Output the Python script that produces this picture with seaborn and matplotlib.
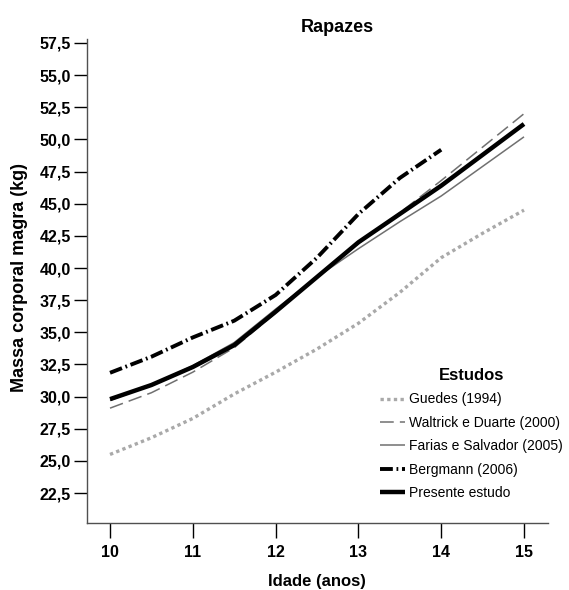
import matplotlib
matplotlib.use("Agg")
import matplotlib.pyplot as plt
import pandas as pd
import seaborn as sns

# Lean body mass (kg) by age for boys, from several studies
ages = [10, 10.5, 11, 11.5, 12, 12.5, 13, 13.5, 14, 14.5, 15]
guedes = [25.5, 26.8, 28.3, 30.2, 31.9, 33.7, 35.7, 38.1, 40.8, 42.7, 44.5]
waltrick = [29.1, 30.3, 31.9, 33.8, 36.5, 39.3, 41.9, 44.3, 46.8, 49.4, 52.0]
farias = [29.7, 30.9, 32.4, 34.2, 36.8, 39.3, 41.5, 43.6, 45.6, 47.9, 50.2]
bergmann_ages = [10, 10.5, 11, 11.5, 12, 12.5, 13, 13.5, 14]
bergmann = [31.85, 33.1, 34.6, 35.9, 37.9, 40.8, 44.2, 47.0, 49.2]
presente = [29.8, 30.9, 32.3, 34.0, 36.6, 39.3, 42.0, 44.2, 46.4, 48.8, 51.2]

study_names = ["Guedes (1994)", "Waltrick e Duarte (2000)",
               "Farias e Salvador (2005)", "Bergmann (2006)", "Presente estudo"]

x_ticks = [10, 11, 12, 13, 14, 15]
y_ticks = [22.5, 25.0, 27.5, 30.0, 32.5, 35.0, 37.5, 40.0, 42.5, 45.0,
           47.5, 50.0, 52.5, 55.0, 57.5]

sns.set_theme(style="ticks")
plt.rcParams["font.family"] = ["Liberation Sans", "DejaVu Sans"]
plt.rcParams["text.color"] = "black"
plt.rcParams["axes.labelcolor"] = "black"
plt.rcParams["xtick.color"] = "black"
plt.rcParams["ytick.color"] = "black"

fig = plt.figure(figsize=(5.69, 5.90), dpi=100)
ax = fig.add_axes([0.1529, 0.1136, 0.8102, 0.8203])

series = [
    (ages, guedes, dict(color="#a9a9a9", linewidth=2.4, linestyle=(0, (1, 1)))),
    (ages, waltrick, dict(color="#707070", linewidth=1.1, linestyle=(0, (9, 4)))),
    (ages, farias, dict(color="#707070", linewidth=1.1, linestyle="-")),
    (bergmann_ages, bergmann, dict(color="black", linewidth=2.8,
                                   linestyle=(0, (3.3, 0.95, 0.45, 0.95)))),
    (ages, presente, dict(color="black", linewidth=3.2, linestyle="-")),
]

for name, (xs, ys, style) in zip(study_names, series):
    df = pd.DataFrame({"idade": xs, "massa": ys})
    sns.lineplot(data=df, x="idade", y="massa", ax=ax, label=name,
                 solid_capstyle="butt", **style)

ax.set_xlim(9.722, 15.29)
ax.set_ylim(20.17, 57.81)

ax.set_xticks(x_ticks)
ax.set_xticklabels([str(v) for v in x_ticks], fontweight="bold", fontsize=11.5)
ax.set_yticks(y_ticks)
ax.set_yticklabels([f"{v:.1f}".replace(".", ",") for v in y_ticks],
                   fontweight="bold", fontsize=11.5)

ax.tick_params(axis="y", length=9.5, width=1, pad=2, color="black",
               labelcolor="black")
ax.tick_params(axis="x", length=10.5, width=1, pad=5, color="black",
               labelcolor="black")

sns.despine(ax=ax)
for side in ("left", "bottom"):
    ax.spines[side].set_color("#505050")
    ax.spines[side].set_linewidth(1)

ax.set_xlabel("Idade (anos)", fontsize=12, fontweight="bold", color="black")
ax.set_ylabel("Massa corporal magra (kg)", fontsize=13, fontweight="bold",
              color="black")
ax.xaxis.set_label_coords(0.499, -0.105)
ax.yaxis.set_label_coords(-0.128, 0.508)

fig.text(337 / 569, 1 - 28 / 590, "Rapazes", ha="center", va="center",
         fontsize=13, fontweight="bold", color="black")

handles, labels = ax.get_legend_handles_labels()
leg = ax.legend(handles, labels, title="Estudos", loc="upper left",
                bbox_to_anchor=(380 / 569, 1 - 368 / 590),
                bbox_transform=fig.transFigure, frameon=False, fontsize=10,
                title_fontproperties={"weight": "bold", "size": 12},
                handlelength=1.8, handletextpad=0.3, labelspacing=0.68,
                borderpad=0, borderaxespad=0, labelcolor="black")

fig.savefig("out.png", dpi=100)
